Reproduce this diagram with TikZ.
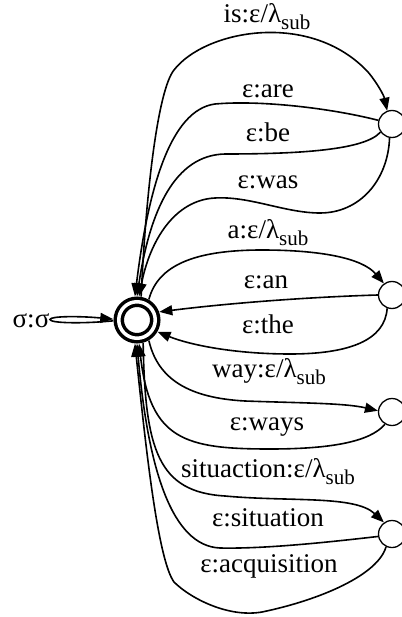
\documentclass[tikz,border=0pt]{standalone}
\usepackage{fontspec}
\setmainfont{Liberation Serif}
\usepackage{tikz}
\usetikzlibrary{arrows.meta}
\tikzstyle{final} = [draw,circle,double,line width=3.5pt,double distance=3.5pt,
                     minimum size=36.5pt,inner sep=0pt,outer sep=5.5pt]
\tikzstyle{state} = [draw,circle,line width=1.3pt,minimum size=27pt,inner sep=0pt]
\tikzstyle{trans} = [line width=1.6pt,-{Triangle[length=13pt,width=10pt]}]
\tikzstyle{lbl} = [inner sep=0pt,anchor=base,font=\fontsize{27}{30}\selectfont]
\newcommand{\lsub}{λ\raisebox{-7pt}{\fontsize{21}{22}\selectfont sub}}

\begin{document}
\begin{tikzpicture}[x=1pt,y=-1pt]
    \useasboundingbox (0,0) rectangle (401,617);
    % states
    \node[final] (q0) at (137,320) {};
    \node[state] (q1) at (392,124) {};
    \node[state] (q2) at (392,295) {};
    \node[state] (q3) at (392,412) {};
    \node[state] (q4) at (392,534) {};
    % self loop
    \draw[trans] (q0.182) .. controls (80,324) and (50,323) .. (50,319.5)
        .. controls (50,316) and (80,316) .. (q0.178);
    \node[lbl] (lsig) at (31,327) {σ:σ};
    % is / are / be / was
    \draw[trans] (q0.80) .. controls (146,190) and (158,90) .. (174,70)
        .. controls (205,30) and (310,10) .. (368,72)
        .. controls (378,84) and (384,96) .. (q1.110);
    \draw[trans] (q1.165) .. controls (330,108) and (260,100) .. (215,104)
        .. controls (170,110) and (148,190) .. (q0.95);
    \draw[trans] (q1.215) .. controls (365,150) and (300,154) .. (225,154)
        .. controls (175,155) and (150,210) .. (q0.90);
    \draw[trans] (q1.260) .. controls (388,180) and (360,213) .. (320,213)
        .. controls (285,213) and (250,196) .. (215,198)
        .. controls (175,200) and (150,240) .. (q0.85);
    \node[lbl] (lis) at (267,23) {is:ε/\lsub};
    \node[lbl] (lare) at (268,98) {ε:are};
    \node[lbl] (lbe) at (268,142) {ε:be};
    \node[lbl] (lwas) at (268,189) {ε:was};
    % a / an / the
    \draw[trans] (q0.60) .. controls (158,265) and (195,250) .. (262,250)
        .. controls (320,250) and (362,258) .. (q2.125);
    \draw[trans] (q2.180) .. controls (310,297) and (230,303) .. (q0.20);
    \draw[trans] (q2.250) .. controls (385,340) and (350,354) .. (290,354)
        .. controls (235,354) and (190,345) .. (q0.-30);
    \node[lbl] (la) at (268,238) {a:ε/\lsub};
    \node[lbl] (lan) at (266,288) {ε:an};
    \node[lbl] (lthe) at (268,333) {ε:the};
    % way / ways
    \draw[trans] (q0.-60) .. controls (158,380) and (190,398) .. (245,401)
        .. controls (300,403) and (345,403) .. (q3.175);
    \draw[trans] (q3.240) .. controls (370,442) and (330,449) .. (270,449)
        .. controls (185,449) and (150,440) .. (q0.-85);
    \node[lbl] (lway) at (269,377) {way:ε/\lsub};
    \node[lbl] (lways) at (267,430) {ε:ways};
    % situaction / situation / acquisition
    \draw[trans] (q0.-75) .. controls (145,450) and (158,492) .. (225,496)
        .. controls (290,502) and (355,495) .. (q4.125);
    \draw[trans] (q4.190) .. controls (330,542) and (265,549) .. (220,548)
        .. controls (172,546) and (148,470) .. (q0.-90);
    \draw[trans] (q4.245) .. controls (378,575) and (320,600) .. (262,612)
        .. controls (228,618) and (190,598) .. (174,582)
        .. controls (158,560) and (146,450) .. (q0.-95);
    \node[lbl] (lsit) at (268,477) {situaction:ε/\lsub};
    \node[lbl] (lsitn) at (268,526) {ε:situation};
    \node[lbl] (lacq) at (269,572) {ε:acquisition};
\end{tikzpicture}
\end{document}
